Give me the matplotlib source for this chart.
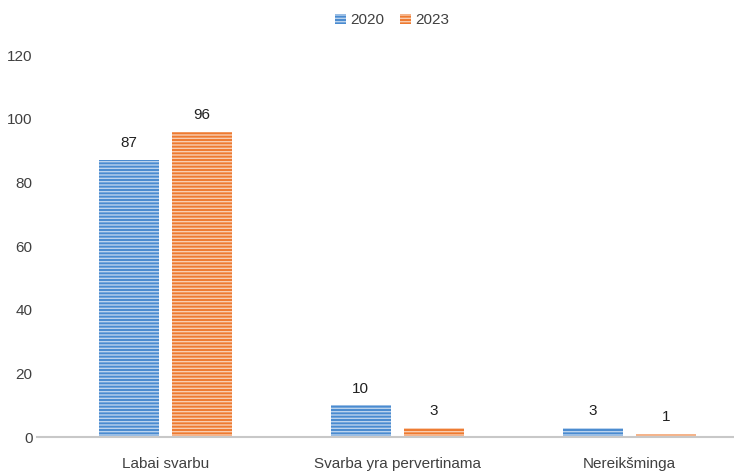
import numpy as np
import matplotlib
matplotlib.use("Agg")
import matplotlib.pyplot as plt

categories = ["Labai svarbu", "Svarba yra pervertinama", "Nereikšminga"]
years = ["2020", "2023"]
vals_2020 = [87, 10, 3]
vals_2023 = [96, 3, 1]

plt.rcParams['font.family'] = ['Liberation Sans', 'DejaVu Sans']
plt.rcParams['hatch.color'] = '#ffffffa0'
plt.rcParams['hatch.linewidth'] = 1.0

fig = plt.figure(figsize=(7.34, 4.71), dpi=100)
ax = fig.add_axes([0.05, 0.072, 0.95, 0.811])

x = np.arange(len(categories))
w = 0.26
off = 0.158
txt = '#404040'

b1 = ax.bar(x - off, vals_2020, w, color='#4a8bd0', hatch='-----', label=years[0])
b2 = ax.bar(x + off, vals_2023, w, color='#ee7a30', hatch='-----', label=years[1])

for bars, vals in ((b1, vals_2020), (b2, vals_2023)):
    for r, v in zip(bars, vals):
        ax.annotate(str(v), (r.get_x() + r.get_width() / 2, v), xytext=(0, 7),
                    textcoords='offset points', ha='center', va='bottom',
                    fontsize=11, color='#202020')

ax.set_xlim(-0.555, 2.45)
ax.set_ylim(0, 120)
ax.set_yticks(range(0, 121, 20))
ax.set_xticks(x)
ax.set_xticklabels(categories)
for s in ['top', 'right', 'left']:
    ax.spines[s].set_visible(False)
ax.spines['bottom'].set_color('#c8c8c8')
ax.spines['bottom'].set_linewidth(1.5)
ax.tick_params(axis='both', length=0, labelsize=11, colors=txt)
ax.tick_params(axis='x', pad=14)
ax.tick_params(axis='y', pad=3)

ax.legend(loc='upper center', bbox_to_anchor=(0.51, 1.145), ncol=2, frameon=False,
          fontsize=11, handlelength=0.7, handleheight=0.7, handletextpad=0.3,
          columnspacing=1.0, labelcolor=txt)

fig.savefig("out.png", dpi=100)
